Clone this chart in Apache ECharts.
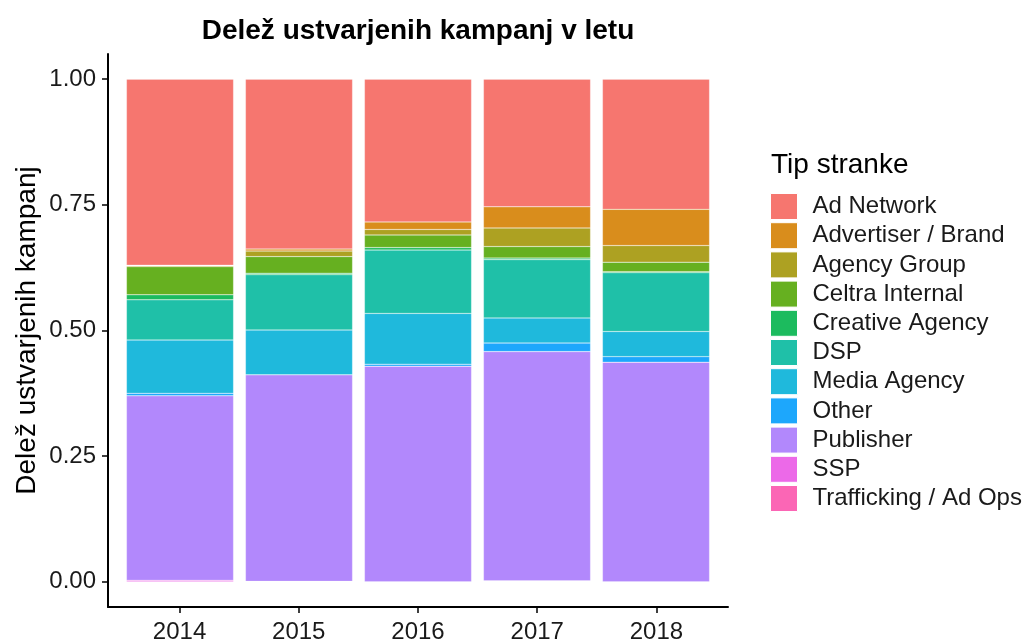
<!DOCTYPE html>
<html lang="sl">
<head>
    <meta charset="UTF-8">
    <title>Delež ustvarjenih kampanj v letu</title>
    <script src="https://cdn.jsdelivr.net/npm/echarts@6/dist/echarts.min.js"></script>
    <style>
        html, body { margin: 0; padding: 0; background: #fff; }
    </style>
</head>
<body>
<div id="main" style="width: 1027px;height:641px;"></div>
<script type="text/javascript">
    // podatki (deleži po letih)
    var years = ['2014', '2015', '2016', '2017', '2018'];
    var yTicks = [0, 0.25, 0.5, 0.75, 1];

    var adNetwork   = [0.370, 0.338, 0.284, 0.254, 0.259];
    var advertiser  = [0.001, 0.004, 0.015, 0.042, 0.072];
    var agencyGroup = [0.002, 0.011, 0.011, 0.037, 0.033];
    var celtra      = [0.056, 0.033, 0.025, 0.023, 0.019];
    var creative    = [0.010, 0.003, 0.005, 0.003, 0.002];
    var dsp         = [0.080, 0.110, 0.126, 0.116, 0.117];
    var mediaAgency = [0.106, 0.089, 0.101, 0.050, 0.050];
    var other       = [0.005, 0.000, 0.004, 0.017, 0.011];
    var publisher   = [0.367, 0.411, 0.429, 0.456, 0.437];
    var ssp         = [0.003, 0.001, 0.000, 0.001, 0.000];
    var trafficking = [0.000, 0.000, 0.000, 0.001, 0.000];

    var types = ['Ad Network', 'Advertiser / Brand', 'Agency Group', 'Celtra Internal', 'Creative Agency',
        'DSP', 'Media Agency', 'Other', 'Publisher', 'SSP', 'Trafficking / Ad Ops'];
    var values = [adNetwork, advertiser, agencyGroup, celtra, creative, dsp, mediaAgency, other, publisher, ssp, trafficking];
    var colors = ['#F6766F', '#D98D1C', '#ADA122', '#66B020', '#1CBB5E', '#1FC0A8',
        '#1FB9DC', '#1DA7FC', '#B288FC', '#EC69E8', '#FB66B5'];

    var font = 'Liberation Sans, Arial, Helvetica, sans-serif';
    var yearPos = [1, 2, 3, 4, 5];

    // ggplot nalaga prvi nivo na vrh, zato gradimo od zadnjega navzgor
    var series = [];
    for (var i = types.length - 1; i >= 0; i--) {
        series.push({
            name: types[i],
            type: 'bar',
            stack: 'total',
            barWidth: '90%',
            xAxisIndex: 0,
            yAxisIndex: 0,
            data: values[i],
            itemStyle: { color: colors[i], borderColor: 'rgba(255,255,255,0.45)', borderWidth: 0.5 },
            emphasis: { disabled: true }
        });
    }

    var myChart = echarts.init(document.getElementById('main'));
    myChart.setOption({
        animation: false,
        textStyle: { fontFamily: font },
        title: [{
            text: 'Delež ustvarjenih kampanj v letu',
            left: 413,
            textAlign: 'center',
            top: 12,
            textStyle: { fontFamily: font, fontSize: 28, fontWeight: 'bold', color: '#000' }
        }, {
            text: 'Tip stranke',
            left: 766,
            top: 146,
            textStyle: { fontFamily: font, fontSize: 28, fontWeight: 'normal', color: '#000' }
        }],
        legend: {
            data: types,
            orient: 'vertical',
            left: 765,
            top: 188,
            itemWidth: 27,
            itemHeight: 26,
            itemGap: 2.2,
            icon: 'rect',
            itemStyle: { borderColor: '#fff', borderWidth: 1 },
            textStyle: { fontFamily: font, fontSize: 24, lineHeight: 24, color: '#1a1a1a', padding: [0, 0, 0, 10] },
            selectedMode: false
        },
        // grid 0: stolpci (pasovi po 1 leto), grid 1: osi v obsegu ggplot panela
        grid: [
            { left: 120.5, right: 311.5, top: 54, bottom: 34, outerBoundsMode: 'none', containLabel: false },
            { left: 108, right: 299, top: 54, bottom: 34, outerBoundsMode: 'none', containLabel: false }
        ],
        xAxis: [{
            type: 'category',
            gridIndex: 0,
            data: years,
            show: false
        }, {
            type: 'value',
            gridIndex: 1,
            min: 0.4,
            max: 5.6,
            splitLine: { show: false },
            axisLine: { show: true, onZero: false, lineStyle: { color: '#000', width: 2 } },
            axisTick: { show: true, length: 6, lineStyle: { color: '#000', width: 1.5 }, customValues: yearPos },
            axisLabel: {
                customValues: yearPos,
                formatter: function (v) { return years[v - 1]; },
                fontSize: 24, color: '#1a1a1a', margin: 13, fontFamily: font
            }
        }],
        yAxis: [{
            type: 'value',
            gridIndex: 0,
            min: -0.05,
            max: 1.05,
            show: false
        }, {
            type: 'value',
            gridIndex: 1,
            min: -0.05,
            max: 1.05,
            name: 'Delež ustvarjenih kampanj',
            nameLocation: 'middle',
            nameGap: 67,
            nameMoveOverlap: false,
            nameTextStyle: { fontFamily: font, fontSize: 28, color: '#000' },
            splitLine: { show: false },
            axisLine: { show: true, onZero: false, lineStyle: { color: '#000', width: 2 } },
            axisTick: { show: true, length: 6, lineStyle: { color: '#000', width: 1.5 }, customValues: yTicks },
            axisLabel: {
                customValues: yTicks,
                formatter: function (v) { return v.toFixed(2); },
                fontSize: 24, color: '#1a1a1a', margin: 12, fontFamily: font
            }
        }],
        series: series
    });
</script>
</body>
</html>
